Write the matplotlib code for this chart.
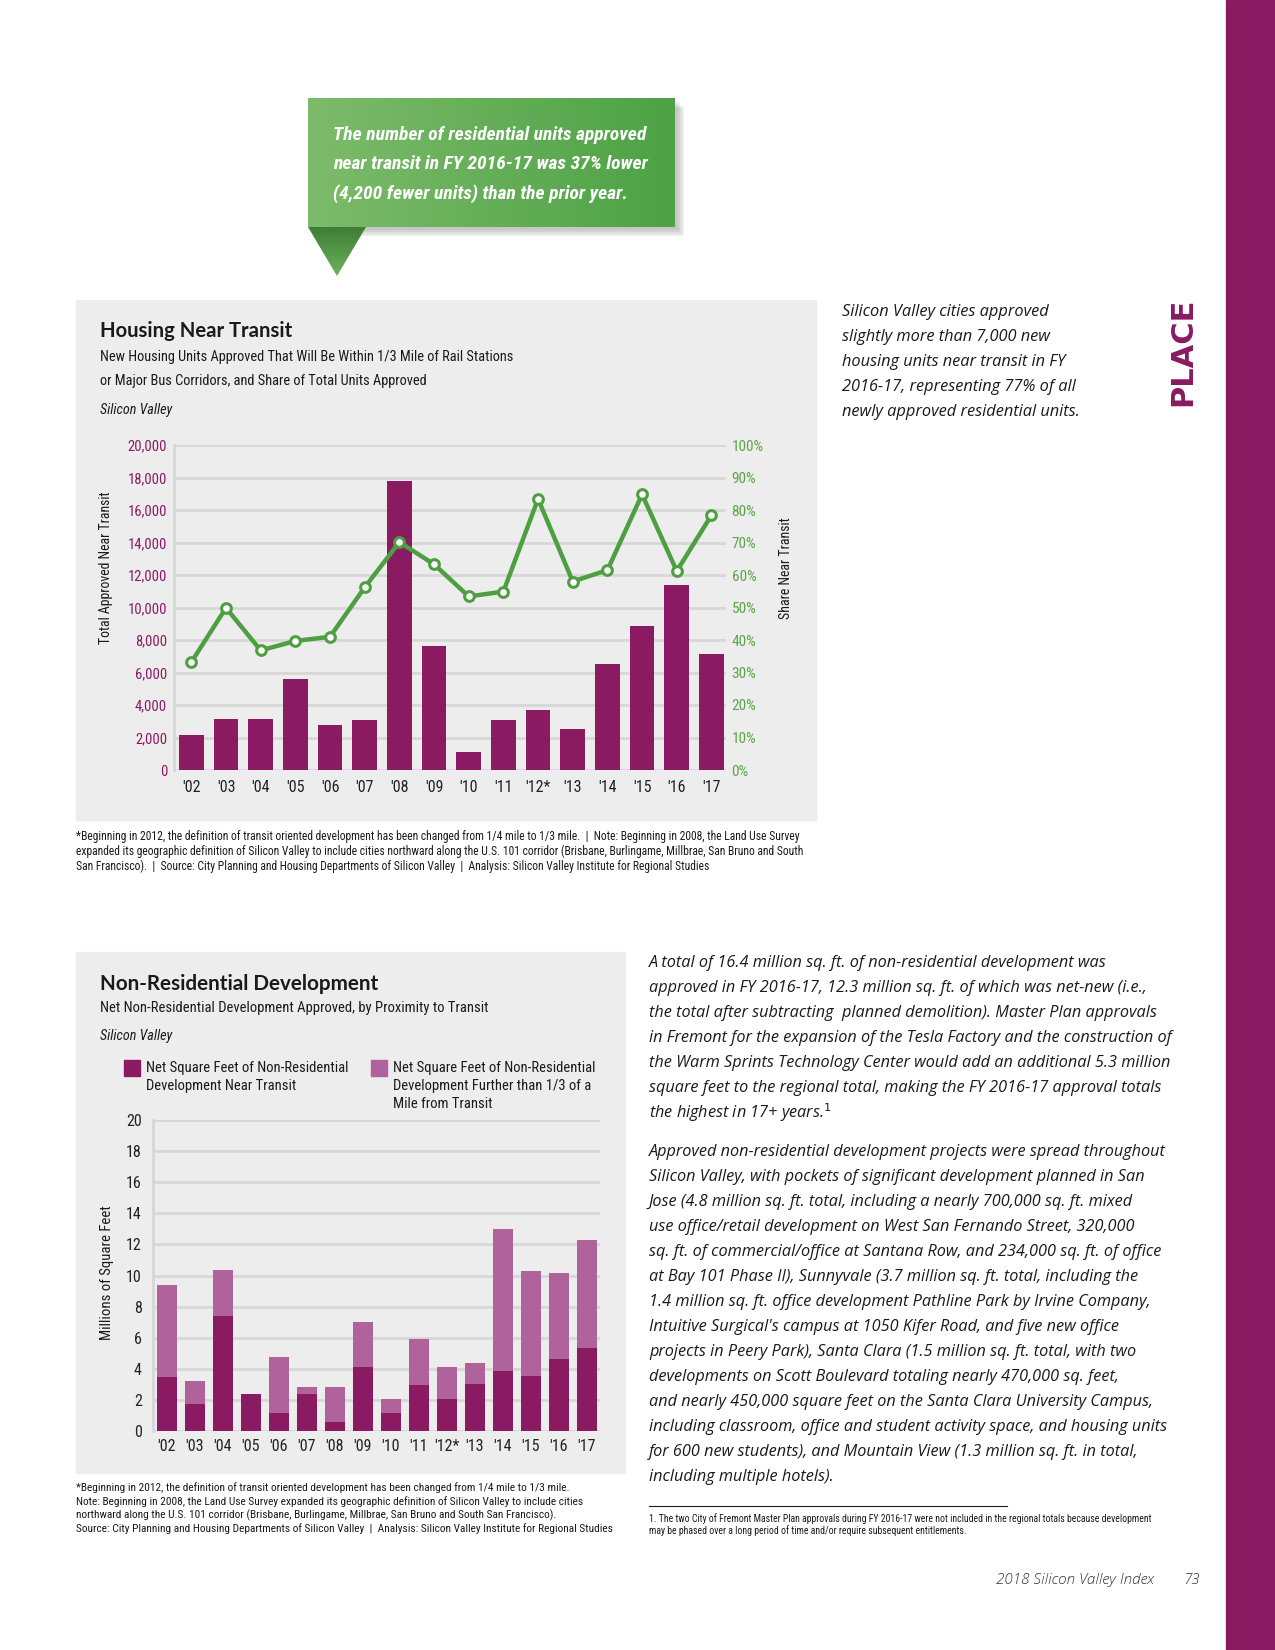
import matplotlib
matplotlib.use("Agg")
import matplotlib.pyplot as plt
import numpy as np
from matplotlib.patches import Rectangle, Polygon
from matplotlib.colors import LinearSegmentedColormap

W, H = 1275, 1650

# ---- data -------------------------------------------------------------
years = ["'02", "'03", "'04", "'05", "'06", "'07", "'08", "'09",
         "'10", "'11", "'12*", "'13", "'14", "'15", "'16", "'17"]
housing_units = [2150, 3150, 3150, 5600, 2800, 3100, 17800, 7650,
                 1100, 3100, 3700, 2550, 6500, 8850, 11400, 7150]
share_near = [33.2, 49.9, 36.8, 39.7, 41.0, 56.2, 70.1, 63.3,
              53.4, 54.9, 83.4, 58.0, 61.5, 84.8, 61.2, 78.4]
nonres_near = [3.45, 1.75, 7.4, 2.35, 1.15, 2.4, 0.58, 4.1,
               1.15, 2.97, 2.07, 3.04, 3.87, 3.54, 4.65, 5.34]
nonres_far = [5.95, 1.47, 2.98, 0.05, 3.61, 0.43, 2.25, 2.9,
              0.92, 2.97, 2.05, 1.33, 9.09, 6.77, 5.48, 6.97]

housing_ticks = [0, 2000, 4000, 6000, 8000, 10000, 12000, 14000, 16000, 18000, 20000]
share_ticks = list(range(0, 101, 10))
nonres_ticks = list(range(0, 21, 2))

callout_lines = ["The number of residential units approved",
                 "near transit in FY 2016-17 was 37% lower",
                 "(4,200 fewer units) than the prior year."]
housing_note = ["Silicon Valley cities approved",
                "slightly more than 7,000 new",
                "housing units near transit in FY",
                "2016-17, representing 77% of all",
                "newly approved residential units."]
para1 = ["A total of 16.4 million sq. ft. of non-residential development was",
         "approved in FY 2016-17, 12.3 million sq. ft. of which was net-new (i.e.,",
         "the total after subtracting  planned demolition). Master Plan approvals",
         "in Fremont for the expansion of the Tesla Factory and the construction of",
         "the Warm Sprints Technology Center would add an additional 5.3 million",
         "square feet to the regional total, making the FY 2016-17 approval totals",
         "the highest in 17+ years.$^{1}$"]
para2 = ["Approved non-residential development projects were spread throughout",
         "Silicon Valley, with pockets of significant development planned in San",
         "Jose (4.8 million sq. ft. total, including a nearly 700,000 sq. ft. mixed",
         "use office/retail development on West San Fernando Street, 320,000",
         "sq. ft. of commercial/office at Santana Row, and 234,000 sq. ft. of office",
         "at Bay 101 Phase II), Sunnyvale (3.7 million sq. ft. total, including the",
         "1.4 million sq. ft. office development Pathline Park by Irvine Company,",
         "Intuitive Surgical's campus at 1050 Kifer Road, and five new office",
         "projects in Peery Park), Santa Clara (1.5 million sq. ft. total, with two",
         "developments on Scott Boulevard totaling nearly 470,000 sq. feet,",
         "and nearly 450,000 square feet on the Santa Clara University Campus,",
         "including classroom, office and student activity space, and housing units",
         "for 600 new students), and Mountain View (1.3 million sq. ft. in total,",
         "including multiple hotels)."]
note1 = ["*Beginning in 2012, the definition of transit oriented development has been changed from 1/4 mile to 1/3 mile.  |  Note: Beginning in 2008, the Land Use Survey",
         "expanded its geographic definition of Silicon Valley to include cities northward along the U.S. 101 corridor (Brisbane, Burlingame, Millbrae, San Bruno and South",
         "San Francisco).  |  Source: City Planning and Housing Departments of Silicon Valley  |  Analysis: Silicon Valley Institute for Regional Studies"]
note2 = ["*Beginning in 2012, the definition of transit oriented development has been changed from 1/4 mile to 1/3 mile.",
         "Note: Beginning in 2008, the Land Use Survey expanded its geographic definition of Silicon Valley to include cities",
         "northward along the U.S. 101 corridor (Brisbane, Burlingame, Millbrae, San Bruno and South San Francisco).",
         "Source: City Planning and Housing Departments of Silicon Valley  |  Analysis: Silicon Valley Institute for Regional Studies"]
footnote = ["1. The two City of Fremont Master Plan approvals during FY 2016-17 were not included in the regional totals because development",
            "may be phased over a long period of time and/or require subsequent entitlements."]

# ---- style ------------------------------------------------------------
PURPLE = "#8a1a62"
LIGHT_PURPLE = "#b0629b"
GREEN = "#4e9f41"
GREEN_TXT = "#5aa646"
PANEL = "#ededed"
GRID = "#d7d7d7"
INK = "#1a1a1a"
NARROW = ["Roboto Condensed", "DejaVu Sans"]
BODY = ["Open Sans", "DejaVu Sans"]
BOLD = ["Lato", "DejaVu Sans"]


def fx(x):
    return x / W


def fy(y):
    return 1 - y / H


def box(x0, y0, x1, y1):
    return [fx(x0), fy(y1), (x1 - x0) / W, (y1 - y0) / H]


def narrow(t):
    t.set_family(NARROW)
    t.set_fontstretch("condensed")
    return t


fig = plt.figure(figsize=(W / 100, H / 100), dpi=100)
fig.patch.set_facecolor("white")

# sidebar
fig.patches.append(Rectangle((fx(1226), 0), 1 - fx(1226), 1, transform=fig.transFigure,
                             color=PURPLE, zorder=0))
fig.text(fx(1183), fy(352), "PLACE", rotation=90, ha="center", va="center",
         color=PURPLE, fontsize=22, fontweight="bold", family=["DejaVu Sans"])

# ---- callout ----------------------------------------------------------
for i, a in enumerate([0.05, 0.05, 0.06, 0.07]):
    d = 3 + i * 2
    fig.patches.append(Rectangle((fx(308 + d * 0.6), fy(227 + d)), (675 - 308 + d * 0.4) / W,
                                 (227 - 98) / H, transform=fig.transFigure,
                                 color="black", alpha=a, lw=0, zorder=1))
ax_c = fig.add_axes(box(308, 98, 675, 227), zorder=2)
grad = np.linspace(0, 1, 256).reshape(1, -1)
ax_c.imshow(grad, aspect="auto", extent=[0, 1, 0, 1],
            cmap=LinearSegmentedColormap.from_list("g", ["#7dbb6b", "#4da245"]))
ax_c.axis("off")

ax_t = fig.add_axes(box(308, 227, 366, 276), zorder=2)
vgrad = np.linspace(0, 1, 256).reshape(-1, 1)
im = ax_t.imshow(vgrad, aspect="auto", extent=[0, 1, 0, 1],
                 cmap=LinearSegmentedColormap.from_list("t", ["#6db25c", "#3f7d36"]),
                 origin="lower")
tri = Polygon([[0.0, 1.0], [1.0, 1.0], [0.5, 0.0]], closed=True, transform=ax_t.transAxes)
im.set_clip_path(tri)
ax_t.axis("off")

for i, line in enumerate(callout_lines):
    narrow(fig.text(fx(333), fy(134.5 + i * 29.5), line, color="white", fontsize=14,
                    fontweight="bold", fontstyle="italic", va="center", ha="left", zorder=10))

# ---- housing panel -----------------------------------------------------
fig.patches.append(Rectangle((fx(76), fy(820)), (816 - 76) / W, (820 - 300) / H,
                             transform=fig.transFigure, color=PANEL, zorder=0))
fig.text(fx(100), fy(331), "Housing Near Transit", fontsize=14.6, fontweight="bold",
         family=BOLD, va="center", color=INK)
for i, line in enumerate(["New Housing Units Approved That Will Be Within 1/3 Mile of Rail Stations",
                          "or Major Bus Corridors, and Share of Total Units Approved"]):
    narrow(fig.text(fx(100), fy(357 + i * 23.5), line, fontsize=10.4, va="center", color=INK))
narrow(fig.text(fx(100), fy(410), "Silicon Valley", fontsize=10.2, fontstyle="italic",
                va="center", color=INK))

x = np.arange(len(years))
ax1 = fig.add_axes(box(174, 445, 726, 770), zorder=3)
ax1.set_facecolor("none")
ax1.bar(x, housing_units, width=0.71, color=PURPLE, zorder=3)
ax1.set_xlim(-0.5, 15.42)
ax1.set_ylim(0, 20000)
ax1.set_yticks(housing_ticks)
ax1.set_yticklabels([f"{v:,}" for v in housing_ticks])
ax1.set_xticks(x)
ax1.set_xticklabels(years)
ax1.yaxis.grid(True, color=GRID, lw=2)
ax1.set_axisbelow(True)
for s in ["top", "right", "bottom"]:
    ax1.spines[s].set_visible(False)
ax1.spines["left"].set_color(GRID)
ax1.spines["left"].set_linewidth(2)
ax1.tick_params(axis="both", length=0)
ax1.tick_params(axis="y", pad=5, labelcolor=PURPLE, labelsize=10.5)
ax1.tick_params(axis="x", pad=7, labelcolor="#222222", labelsize=11.5)
for t in ax1.get_xticklabels() + ax1.get_yticklabels():
    narrow(t)
narrow(fig.text(fx(106), fy(568), "Total Approved Near Transit", rotation=90, ha="center",
                va="center", fontsize=9.9, color=INK))

ax2 = ax1.twinx()
ax2.plot(x, share_near, color=GREEN, lw=3.2, marker="o", markersize=7,
         markerfacecolor="white", markeredgecolor=GREEN, markeredgewidth=2.2, zorder=4)
ax2.set_ylim(0, 100)
ax2.set_yticks(share_ticks)
ax2.set_yticklabels([f"{v}%" for v in share_ticks])
for s in ["top", "right", "bottom", "left"]:
    ax2.spines[s].set_visible(False)
ax2.tick_params(axis="y", length=0, pad=4, labelcolor=GREEN_TXT, labelsize=11)
for t in ax2.get_yticklabels():
    narrow(t)
narrow(fig.text(fx(786), fy(568), "Share Near Transit", rotation=90, ha="center",
                va="center", fontsize=10, color=INK))

for i, line in enumerate(note1):
    narrow(fig.text(fx(76), fy(836 + i * 15), line, fontsize=8.4, va="center", color=INK))

for i, line in enumerate(housing_note):
    fig.text(fx(842), fy(312 + i * 25), line, fontsize=11.8, fontstyle="italic",
             family=BODY, va="center", color=INK)

# ---- non-residential panel -----------------------------------------------
fig.patches.append(Rectangle((fx(76), fy(1473)), (625 - 76) / W, (1473 - 952) / H,
                             transform=fig.transFigure, color=PANEL, zorder=0))
fig.text(fx(100), fy(984), "Non-Residential Development", fontsize=14.9, fontweight="bold",
         family=BOLD, va="center", color=INK)
narrow(fig.text(fx(100), fy(1008), "Net Non-Residential Development Approved, by Proximity to Transit",
                fontsize=10.5, va="center", color=INK))
narrow(fig.text(fx(100), fy(1036), "Silicon Valley", fontsize=10.2, fontstyle="italic",
                va="center", color=INK))

fig.patches.append(Rectangle((fx(124), fy(1076)), 16 / W, 16 / H,
                             transform=fig.transFigure, color=PURPLE, zorder=2))
fig.patches.append(Rectangle((fx(371), fy(1076)), 16 / W, 16 / H,
                             transform=fig.transFigure, color=LIGHT_PURPLE, zorder=2))
for i, line in enumerate(["Net Square Feet of Non-Residential", "Development Near Transit"]):
    narrow(fig.text(fx(146), fy(1068 + i * 18), line, fontsize=10.5, va="center", color=INK))
for i, line in enumerate(["Net Square Feet of Non-Residential",
                          "Development Further than 1/3 of a", "Mile from Transit"]):
    narrow(fig.text(fx(393), fy(1068 + i * 18), line, fontsize=10.5, va="center", color=INK))

ax3 = fig.add_axes(box(153, 1120, 600, 1431), zorder=3)
ax3.set_facecolor("none")
ax3.bar(x, nonres_near, width=0.71, color=PURPLE, zorder=3)
ax3.bar(x, nonres_far, width=0.71, bottom=nonres_near, color=LIGHT_PURPLE, zorder=3)
ax3.set_xlim(-0.49, 15.48)
ax3.set_ylim(0, 20)
ax3.set_yticks(nonres_ticks)
ax3.set_xticks(x)
ax3.set_xticklabels(years)
ax3.yaxis.grid(True, color=GRID, lw=2)
ax3.set_axisbelow(True)
for s in ["top", "right", "bottom"]:
    ax3.spines[s].set_visible(False)
ax3.spines["left"].set_color(GRID)
ax3.spines["left"].set_linewidth(2)
ax3.tick_params(axis="both", length=0, labelcolor="#222222", labelsize=11.5)
ax3.tick_params(axis="y", pad=8)
ax3.tick_params(axis="x", pad=6)
for t in ax3.get_xticklabels() + ax3.get_yticklabels():
    narrow(t)
narrow(fig.text(fx(107), fy(1273), "Millions of Square Feet", rotation=90, ha="center",
                va="center", fontsize=10.6, color=INK))

for i, line in enumerate(note2):
    narrow(fig.text(fx(76), fy(1488 + i * 13.5), line, fontsize=8.2, va="center", color=INK))

# ---- right column text --------------------------------------------------
for i, line in enumerate(para1):
    fig.text(fx(649), fy(963 + i * 25), line, fontsize=11.7, fontstyle="italic",
             family=BODY, va="center", color=INK)
for i, line in enumerate(para2):
    fig.text(fx(649), fy(1152 + i * 25), line, fontsize=11.7, fontstyle="italic",
             family=BODY, va="center", color=INK)

fig.add_artist(plt.Line2D([fx(649), fx(1007)], [fy(1506), fy(1506)],
                          transform=fig.transFigure, color=INK, lw=0.8))
for i, line in enumerate(footnote):
    narrow(fig.text(fx(649), fy(1519 + i * 12), line, fontsize=7.0, va="center", color=INK))

# ---- footer ---------------------------------------------------------------
fig.text(fx(1154), fy(1580), "2018 Silicon Valley Index", fontsize=11, fontstyle="italic",
         fontweight="light", family=BODY, ha="right", va="center", color="#333333")
fig.text(fx(1200), fy(1580), "73", fontsize=11, fontstyle="italic", fontweight="light",
         family=BODY, ha="right", va="center", color="#333333")

fig.savefig("out.png", dpi=100, facecolor="white")
